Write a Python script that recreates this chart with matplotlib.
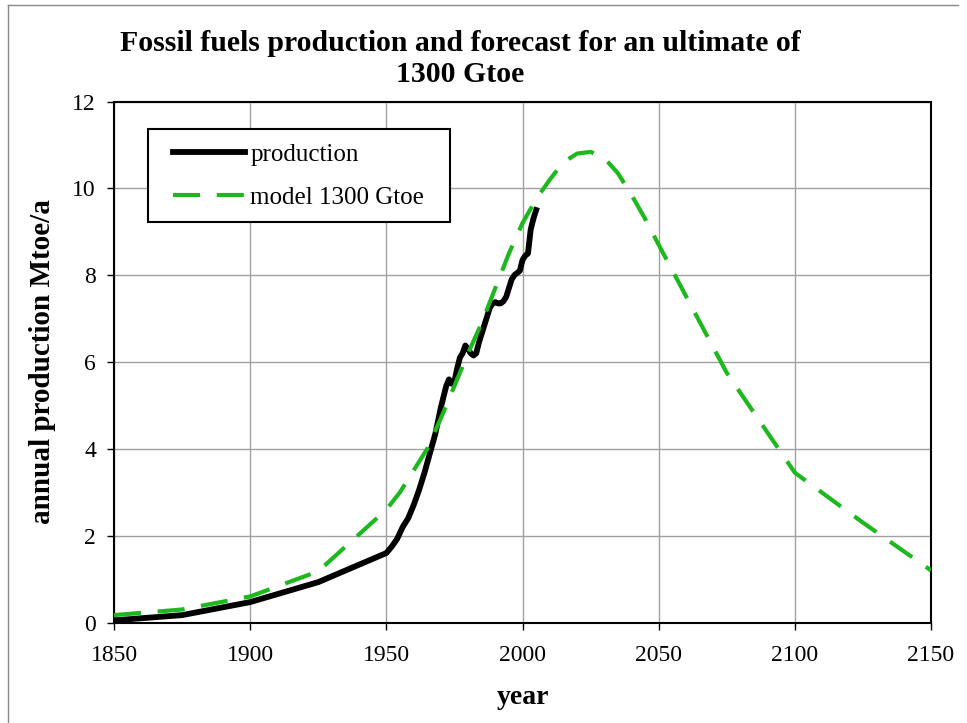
import matplotlib.pyplot as plt
from matplotlib.lines import Line2D
from matplotlib.patches import Rectangle

plt.rcParams['font.family'] = ['Liberation Serif', 'DejaVu Serif']

# production (historical)
prod_years = [1850, 1875, 1900, 1925, 1950, 1952, 1954, 1956, 1958, 1960,
              1962, 1964, 1966, 1968, 1970, 1972, 1973, 1974, 1975, 1976,
              1977, 1978, 1979, 1980, 1981, 1982, 1983, 1984, 1985, 1986,
              1987, 1988, 1989, 1990, 1991, 1992, 1993, 1994, 1995, 1996,
              1997, 1998, 1999, 2000, 2001, 2002, 2003, 2004, 2005]
prod_values = [0.05, 0.17, 0.47, 0.93, 1.6, 1.75, 1.93, 2.2, 2.4, 2.7,
               3.05, 3.45, 3.9, 4.35, 4.95, 5.45, 5.6, 5.5, 5.55, 5.85,
               6.1, 6.2, 6.38, 6.3, 6.2, 6.15, 6.2, 6.45, 6.65, 6.85,
               7.05, 7.25, 7.35, 7.38, 7.35, 7.35, 7.4, 7.5, 7.7, 7.9,
               8.0, 8.05, 8.1, 8.35, 8.45, 8.5, 9.05, 9.3, 9.5]

# model for an ultimate of 1300 Gtoe
model_years = [1850, 1875, 1900, 1925, 1950, 1955, 1960, 1965, 1970, 1975,
               1980, 1985, 1990, 1995, 2000, 2005, 2010, 2015, 2020, 2025,
               2030, 2035, 2040, 2045, 2050, 2075, 2100, 2125, 2150]
model_values = [0.17, 0.3, 0.6, 1.18, 2.6, 3.0, 3.5, 4.0, 4.7, 5.45,
                6.2, 6.9, 7.7, 8.5, 9.2, 9.75, 10.2, 10.6, 10.8, 10.84,
                10.7, 10.35, 9.85, 9.3, 8.7, 5.75, 3.45, 2.3, 1.2]

fig = plt.figure(figsize=(9.67, 7.23), dpi=100)
ax = fig.add_axes([0.1179, 0.139, 0.8449, 0.7206])

ax.plot(prod_years, prod_values, color='black', lw=4.2,
        solid_joinstyle='round', label='production', zorder=3)
ax.plot(model_years, model_values, color='#1db81d', lw=3.0,
        dashes=(6.5, 4), label='model 1300 Gtoe', zorder=4)

ax.set_xlim(1850, 2150)
ax.set_ylim(0, 12)
ax.set_xticks(range(1850, 2151, 50))
ax.set_yticks(range(0, 13, 2))
ax.grid(True, color='#a0a0a0', lw=1.0)
ax.set_axisbelow(True)
ax.tick_params(direction='out', length=5, width=1, labelsize=17)
ax.tick_params(axis='x', pad=11)
ax.tick_params(axis='y', pad=8)
for s in ax.spines.values():
    s.set_linewidth(1.5)

ax.set_xlabel('year', fontsize=20, fontweight='bold', labelpad=14)
ax.set_ylabel('annual production Mtoe/a', fontsize=21, fontweight='bold', labelpad=12)
fig.suptitle('Fossil fuels production and forecast for an ultimate of\n1300 Gtoe',
             x=0.476, y=0.958, fontsize=21.4, fontweight='bold', linespacing=1.15)

# legend box drawn separately so the padding matches the original
ax.add_patch(Rectangle((0.0412, 0.768), 0.370, 0.1787, transform=ax.transAxes,
                       facecolor='white', edgecolor='black', lw=1.5, zorder=5))
leg = ax.legend(loc='upper left', bbox_to_anchor=(0.0718, 0.919), fontsize=18,
                frameon=False, handlelength=2.9, handletextpad=0.2,
                borderpad=0, labelspacing=0.82, borderaxespad=0)
leg.set_zorder(6)

# thin page border at top and left
fig.add_artist(Line2D([0.008, 0.991], [0.993, 0.993], color='#888888', lw=1))
fig.add_artist(Line2D([0.008, 0.008], [0.0, 0.993], color='#888888', lw=1))

fig.savefig('out.png', dpi=100)
